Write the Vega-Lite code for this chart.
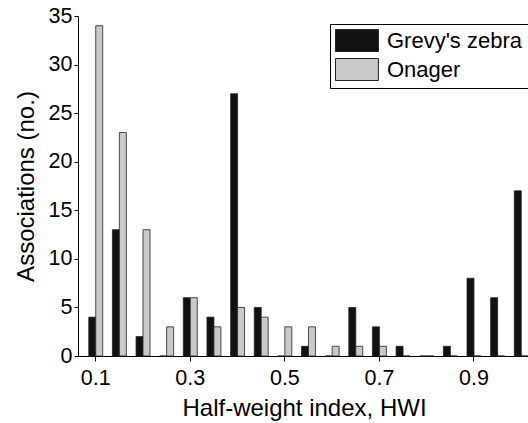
{
  "$schema": "https://vega.github.io/schema/vega-lite/v6.json",
  "autosize": {"type": "none"},
  "padding": {"left": 78, "top": 16, "right": 0, "bottom": 67},
  "width": 461,
  "height": 340,
  "background": "white",
  "config": {
    "font": "Liberation Sans",
    "view": {"stroke": null},
    "axis": {"domainColor": "black", "tickColor": "black", "labelColor": "black", "titleColor": "black", "labelFontSize": 21.5, "titleFontSize": 24, "titleFontWeight": "normal", "grid": false}
  },
  "data": {
    "values": [
      {"hwi": "0.1", "species": "Grevy's zebra", "n": 4}, {"hwi": "0.1", "species": "Onager", "n": 34},
      {"hwi": "0.15", "species": "Grevy's zebra", "n": 13}, {"hwi": "0.15", "species": "Onager", "n": 23},
      {"hwi": "0.2", "species": "Grevy's zebra", "n": 2}, {"hwi": "0.2", "species": "Onager", "n": 13},
      {"hwi": "0.25", "species": "Grevy's zebra", "n": 0}, {"hwi": "0.25", "species": "Onager", "n": 3},
      {"hwi": "0.3", "species": "Grevy's zebra", "n": 6}, {"hwi": "0.3", "species": "Onager", "n": 6},
      {"hwi": "0.35", "species": "Grevy's zebra", "n": 4}, {"hwi": "0.35", "species": "Onager", "n": 3},
      {"hwi": "0.4", "species": "Grevy's zebra", "n": 27}, {"hwi": "0.4", "species": "Onager", "n": 5},
      {"hwi": "0.45", "species": "Grevy's zebra", "n": 5}, {"hwi": "0.45", "species": "Onager", "n": 4},
      {"hwi": "0.5", "species": "Grevy's zebra", "n": 0}, {"hwi": "0.5", "species": "Onager", "n": 3},
      {"hwi": "0.55", "species": "Grevy's zebra", "n": 1}, {"hwi": "0.55", "species": "Onager", "n": 3},
      {"hwi": "0.6", "species": "Grevy's zebra", "n": 0}, {"hwi": "0.6", "species": "Onager", "n": 1},
      {"hwi": "0.65", "species": "Grevy's zebra", "n": 5}, {"hwi": "0.65", "species": "Onager", "n": 1},
      {"hwi": "0.7", "species": "Grevy's zebra", "n": 3}, {"hwi": "0.7", "species": "Onager", "n": 1},
      {"hwi": "0.75", "species": "Grevy's zebra", "n": 1}, {"hwi": "0.75", "species": "Onager", "n": 0},
      {"hwi": "0.8", "species": "Grevy's zebra", "n": 0}, {"hwi": "0.8", "species": "Onager", "n": 0},
      {"hwi": "0.85", "species": "Grevy's zebra", "n": 1}, {"hwi": "0.85", "species": "Onager", "n": 0},
      {"hwi": "0.9", "species": "Grevy's zebra", "n": 8}, {"hwi": "0.9", "species": "Onager", "n": 0},
      {"hwi": "0.95", "species": "Grevy's zebra", "n": 6}, {"hwi": "0.95", "species": "Onager", "n": 0},
      {"hwi": "1", "species": "Grevy's zebra", "n": 17}, {"hwi": "1", "species": "Onager", "n": 0}
    ]
  },
  "mark": {"type": "bar", "stroke": "#222", "strokeWidth": 0.8},
  "encoding": {
    "x": {
      "field": "hwi", "type": "ordinal", "sort": null,
      "scale": {"paddingInner": 0.41, "paddingOuter": 0.455},
      "axis": {"values": ["0.1", "0.3", "0.5", "0.7", "0.9"], "labelAngle": 0, "tickSize": 5, "labelPadding": 6, "title": "Half-weight index, HWI", "titlePadding": 8, "titleX": 226}
    },
    "xOffset": {"field": "species", "type": "nominal", "scale": {"paddingInner": 0, "paddingOuter": 0}},
    "y": {
      "field": "n", "type": "quantitative",
      "scale": {"domain": [0, 35]},
      "axis": {"values": [0, 5, 10, 15, 20, 25, 30, 35], "title": "Associations (no.)", "tickSize": 4, "labelPadding": 2, "titlePadding": 10}
    },
    "color": {
      "field": "species", "type": "nominal",
      "scale": {"domain": ["Grevy's zebra", "Onager"], "range": ["#111111", "#c8c9ca"]},
      "legend": {
        "title": null, "orient": "none", "legendX": 252, "legendY": 8,
        "strokeColor": "black", "fillColor": "white", "padding": 5,
        "symbolType": "M-1,-1H2.9V1H-1Z", "symbolSize": 484,
        "symbolStrokeColor": "#222", "symbolStrokeWidth": 1,
        "labelFontSize": 22, "labelColor": "black", "labelOffset": 29, "rowPadding": 2
      }
    }
  }
}
